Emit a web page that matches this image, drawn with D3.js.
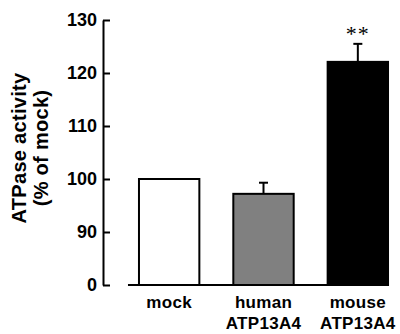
<!DOCTYPE html>
<html>
<head>
<meta charset="utf-8">
<script src="https://cdn.jsdelivr.net/npm/d3@7"></script>
<style>
  body { margin: 0; background: #fff; }
  svg { display: block; }
  text { font-family: "Liberation Sans", Arial, sans-serif; font-weight: bold; fill: #000; }
</style>
</head>
<body>
<svg id="chart"></svg>
<script>
// data (axis is broken between 0 and 90)
const groups = ["mock", "human ATP13A4", "mouse ATP13A4"];
const labelLines = [["mock"], ["human", "ATP13A4"], ["mouse", "ATP13A4"]];
const activity = [100, 97.2, 122.1];
const errors = [0, 2.1, 3.4];
const fills = ["#ffffff", "#808080", "#000000"];
const signif = ["", "", "**"];
const yTicks = [80, 90, 100, 110, 120, 130];
const yTickLabels = ["0", "90", "100", "110", "120", "130"];

const width = 400, height = 334;
const svg = d3.select("#chart").attr("width", width).attr("height", height);

const axisX = 103;
const y = d3.scaleLinear().domain([80, 130]).range([285, 20]);
const x = d3.scaleBand().domain(groups).range([122, 405])
    .paddingInner(0.36).paddingOuter(0.18);

// y axis, ticks pointing inward
const yAxis = d3.axisLeft(y)
    .tickValues(yTicks)
    .tickFormat((d, i) => yTickLabels[i])
    .tickSizeInner(-7)
    .tickSizeOuter(0)
    .tickPadding(6);

const gy = svg.append("g")
    .attr("transform", `translate(${axisX},0)`)
    .call(yAxis);
gy.select(".domain").attr("stroke", "#000").attr("stroke-width", 2);
gy.selectAll(".tick line").attr("stroke", "#000").attr("stroke-width", 2);
gy.selectAll(".tick text")
    .attr("font-size", 18)
    .attr("font-family", "Liberation Sans, Arial, sans-serif")
    .attr("font-weight", "bold")
    .attr("fill", "#000");

// axis title
const title = svg.append("text")
    .attr("transform", `translate(0,148) rotate(-90)`)
    .attr("text-anchor", "middle")
    .attr("font-size", 20)
    .attr("letter-spacing", 0.3);
title.append("tspan").attr("x", 0).attr("y", 26).text("ATPase activity");
title.append("tspan").attr("x", 0).attr("y", 48).text("(% of mock)");

// baseline under the bars
svg.append("line")
    .attr("x1", x(groups[0]) - 11)
    .attr("x2", x(groups[2]) + x.bandwidth())
    .attr("y1", y(80)).attr("y2", y(80))
    .attr("stroke", "#000").attr("stroke-width", 2);

// bars
svg.selectAll("rect.bar")
    .data(groups)
    .join("rect")
    .attr("class", "bar")
    .attr("x", d => x(d))
    .attr("y", (d, i) => y(activity[i]))
    .attr("width", x.bandwidth())
    .attr("height", (d, i) => y(80) - y(activity[i]))
    .attr("fill", (d, i) => fills[i])
    .attr("stroke", "#000")
    .attr("stroke-width", 2);

// error bars (upper only)
const eb = svg.selectAll("g.err")
    .data(groups.filter((d, i) => errors[i] > 0))
    .join("g")
    .attr("class", "err");
eb.append("line")
    .attr("x1", d => x(d) + x.bandwidth() / 2)
    .attr("x2", d => x(d) + x.bandwidth() / 2)
    .attr("y1", d => y(activity[groups.indexOf(d)]))
    .attr("y2", d => { const i = groups.indexOf(d); return y(activity[i] + errors[i]); })
    .attr("stroke", "#000").attr("stroke-width", 2);
eb.append("line")
    .attr("x1", d => x(d) + x.bandwidth() / 2 - 4.5)
    .attr("x2", d => x(d) + x.bandwidth() / 2 + 4.5)
    .attr("y1", d => { const i = groups.indexOf(d); return y(activity[i] + errors[i]); })
    .attr("y2", d => { const i = groups.indexOf(d); return y(activity[i] + errors[i]); })
    .attr("stroke", "#000").attr("stroke-width", 2);

// significance stars
svg.selectAll("text.sig")
    .data(groups)
    .join("text")
    .attr("class", "sig")
    .attr("x", d => x(d) + x.bandwidth() / 2)
    .attr("y", (d, i) => y(activity[i] + errors[i]) - 3)
    .attr("text-anchor", "middle")
    .style("font-family", "Liberation Serif, Times New Roman, serif")
    .style("font-weight", "normal")
    .attr("font-size", 22)
    .attr("letter-spacing", 1)
    .text((d, i) => signif[i]);

// category labels
const cl = svg.selectAll("text.cat")
    .data(groups)
    .join("text")
    .attr("class", "cat")
    .attr("text-anchor", "middle")
    .attr("font-size", 17)
    .attr("letter-spacing", 0.3);
cl.each(function(d, i) {
  const t = d3.select(this);
  labelLines[i].forEach((s, j) => {
    t.append("tspan")
      .attr("x", x(d) + x.bandwidth() / 2)
      .attr("y", 308 + j * 21)
      .text(s);
  });
});
</script>
</body>
</html>
